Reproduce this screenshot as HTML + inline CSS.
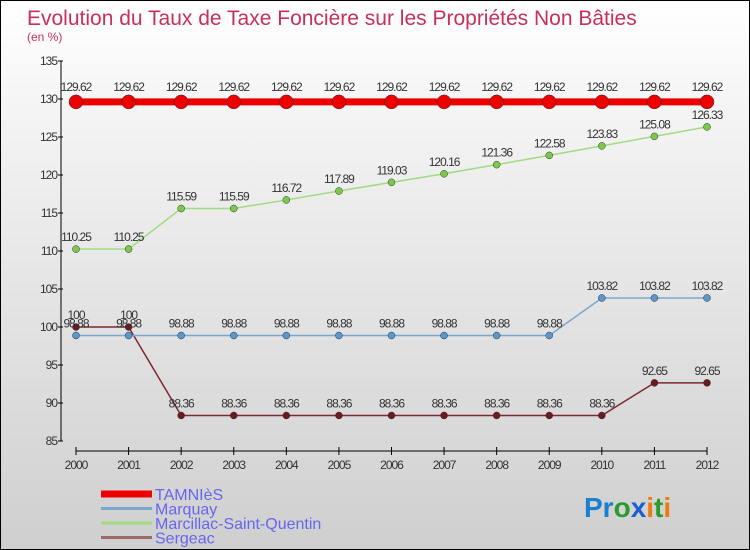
<!DOCTYPE html>
<html><head><meta charset="utf-8"><style>
body{margin:0}
#c{width:748px;height:548px;border:1px solid #000;background:linear-gradient(#fff,#f4f4f4 20%,#cfcfcf);position:relative;font-family:"Liberation Sans",sans-serif}
</style></head><body>
<div id="c">
<svg id="s" width="748" height="548" style="position:absolute;left:0;top:0" font-family="Liberation Sans, sans-serif">
<text x="26" y="24" font-size="21" fill="#c8305a">Evolution du Taux de Taxe Foncière sur les Propriétés Non Bâties</text>
<text x="26" y="40" font-size="12" fill="#c8305a">(en %)</text>
<g id="axes"></g><g id="series"></g><g id="legend"></g>
<text x="583" y="516" font-size="28" font-weight="bold"><tspan fill="#1a7fd0">Pr</tspan><tspan fill="#2a9a30">o</tspan><tspan fill="#1a5fd0">x</tspan><tspan fill="#f07a10">i</tspan><tspan fill="#2a9a30">t</tspan><tspan fill="#f07a10">i</tspan></text>
</svg>
</div>
<script>
const years=[2000,2001,2002,2003,2004,2005,2006,2007,2008,2009,2010,2011,2012];
const yTicks=[85,90,95,100,105,110,115,120,125,130,135];
const tamnies=[129.62,129.62,129.62,129.62,129.62,129.62,129.62,129.62,129.62,129.62,129.62,129.62,129.62];
const marquay=[98.88,98.88,98.88,98.88,98.88,98.88,98.88,98.88,98.88,98.88,103.82,103.82,103.82];
const marcillac=[110.25,110.25,115.59,115.59,116.72,117.89,119.03,120.16,121.36,122.58,123.83,125.08,126.33];
const sergeac=[100,100,88.36,88.36,88.36,88.36,88.36,88.36,88.36,88.36,88.36,92.65,92.65];
const seriesNames=["TAMNIèS","Marquay","Marcillac-Saint-Quentin","Sergeac"];
const NS="http://www.w3.org/2000/svg";
const X=i=>75+i*(706-75)/(years.length-1);
const Y=v=>440-(v-85)*(440-60)/(135-85);
function mk(p,t,a){const e=document.createElementNS(NS,t);for(const k in a)e.setAttribute(k,a[k]);p.appendChild(e);return e;}
const ax=document.getElementById('axes');
const yl=mk(ax,'line',{x1:60,x2:60,y1:60,y2:440,stroke:'#000'});


yTicks.forEach(t=>{mk(ax,'line',{x1:57,x2:62,y1:Y(t),y2:Y(t),stroke:'#000'});
const tx=mk(ax,'text',{x:56,y:Y(t)+4,'font-size':12,fill:'#333','text-anchor':'end','letter-spacing':'-1'});tx.textContent=t;

});
const xl=mk(ax,'line',{x1:75,x2:706,y1:450,y2:450,stroke:'#000'});


years.forEach((y,i)=>{mk(ax,'line',{x1:X(i),x2:X(i),y1:446,y2:454,stroke:'#000'});
const tx=mk(ax,'text',{x:X(i),y:468,'font-size':12,fill:'#333','text-anchor':'middle','letter-spacing':'-1'});tx.textContent=y;

});
const sg=document.getElementById('series');
function draw(data,color,dot,w,r,name,lblOff){
 const g=mk(sg,'g',{});
 
 
 mk(g,'polyline',{points:data.map((v,i)=>X(i)+','+Y(v)).join(' '),fill:'none',stroke:color,'stroke-width':w});
 data.forEach((v,i)=>{const c=mk(g,'circle',{cx:X(i),cy:Y(v),r:r,fill:dot,stroke:'#333','stroke-width':0.5});
 
 
 const t=mk(g,'text',{x:X(i),y:Y(v)+lblOff,'font-size':12,fill:'#333','text-anchor':'middle','letter-spacing':'-1'});t.textContent=v;
 
 });
}
draw(sergeac,'#7a2a30','#6b1a20',1.5,3.5,'series-sergeac',-8);
draw(marquay,'#7aa8cc','#5a98cc',1.5,3.5,'series-marquay',-8);
draw(marcillac,'#a0dc80','#7cc84a',1.5,3.5,'series-marcillac',-8);
draw(tamnies,'#ee0000','#ee0000',7,7,'series-tamnies',-11);
const lg=document.getElementById('legend');
const cols=['#ee0000','#7aa8cc','#a0dc80','#9a6a6a'],ws=[7,3,3,3];
seriesNames.forEach((n,i)=>{const y=493+i*14.5;
 const g=mk(lg,'g',{});
 
 
 mk(g,'line',{x1:100,x2:151,y1:y,y2:y,stroke:cols[i],'stroke-width':ws[i]});
 const t=mk(g,'text',{x:154,y:y+6,'font-size':16,fill:'#6666ee'});t.textContent=n;});
</script>
</body></html>
